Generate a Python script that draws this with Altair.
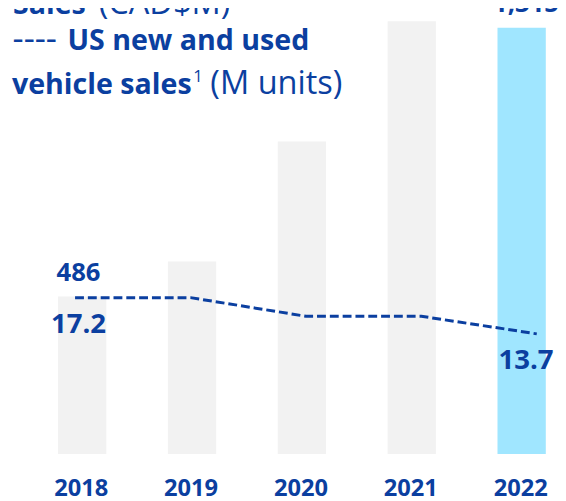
import altair as alt
import pandas as pd

# ---- data ----
years = [2018, 2019, 2020, 2021, 2022]
sales_cad_m = [486, 594, 964, 1335, 1315]          # bars (CAD$M)
vehicle_sales_m = [17.2, 17.2, 15.4, 15.4, 13.7]   # dashed line (M units)
labelled_years = [2018, 2022]
highlight_year = 2022

BLUE = "#0B3FA0"
GREY = "#F2F2F2"
CYAN = "#A0E6FF"
FONT = "Open Sans"

df = pd.DataFrame({"year": years, "sales": sales_cad_m, "units": vehicle_sales_m})

W, H = 558, 449
bar_x = alt.Scale(domain=[2017.37, 2022.286], nice=False, zero=False)
line_x = alt.Scale(domain=[2017.419, 2022.184], nice=False, zero=False)
bar_y = alt.Scale(domain=[0, 1365], nice=False, zero=True)
line_y = alt.Scale(domain=[2.07, 44.87], nice=False, zero=False)

base = alt.Chart(df)

bars = base.mark_bar(size=49).encode(
    x=alt.X(
        "year:Q",
        scale=bar_x,
        axis=alt.Axis(
            values=years, format="d", title=None, domain=False, ticks=False,
            grid=False, labelFont=FONT, labelFontSize=24, labelFontWeight="bold",
            labelColor=BLUE, labelPadding=42, labelBaseline="alphabetic",
            labelFlush=False, labelOverlap=False, labelOffset=-1.5,
        ),
    ),
    y=alt.Y("sales:Q", scale=bar_y, axis=None),
    color=alt.condition(alt.datum.year == highlight_year, alt.value(CYAN), alt.value(GREY)),
)

bar_labels = base.transform_filter(
    alt.FieldOneOfPredicate(field="year", oneOf=labelled_years)
).mark_text(
    font=FONT, fontWeight="bold", fontSize=26, color=BLUE,
    baseline="alphabetic", align="center", dy=-16,
).encode(
    x=alt.X("year:Q", scale=bar_x, axis=None),
    y=alt.Y("sales:Q", scale=bar_y, axis=None),
    text=alt.Text("sales:Q", format=",d"),
)

line = base.mark_line(color=BLUE, strokeWidth=3, strokeDash=[9, 4]).encode(
    x=alt.X("year:Q", scale=line_x, axis=None),
    y=alt.Y("units:Q", scale=line_y, axis=None),
)

line_labels = base.transform_filter(
    alt.FieldOneOfPredicate(field="year", oneOf=labelled_years)
).mark_text(
    font=FONT, fontWeight="bold", fontSize=28, color=BLUE,
    baseline="alphabetic", align="center", dy=35.5,
).encode(
    x=alt.X("year:Q", scale=bar_x, axis=None),
    y=alt.Y("units:Q", scale=line_y, axis=None),
    text=alt.Text("units:Q", format=".1f"),
)


def note(text, x, y, size, weight="normal"):
    return alt.Chart(pd.DataFrame({"t": [text]})).mark_text(
        font=FONT, fontSize=size, fontWeight=weight, color=BLUE,
        align="left", baseline="alphabetic",
    ).encode(x=alt.value(x), y=alt.value(y), text="t:N")


notes = [
    note("Sales", 5, 3, 29, "bold"),
    note("(CAD$M)", 92, 3, 33),
    note("----", 4.6, 38.7, 35),
    note("US new and used", 60.3, 38.7, 29, "bold"),
    note("vehicle sales", 4, 83.7, 29, "bold"),
    note("1", 188, 71, 17),
    note("(M units)", 205.3, 83.7, 33),
]

chart = alt.layer(bars, bar_labels, line, line_labels, *notes).resolve_scale(
    x="independent", y="independent"
).properties(
    width=W, height=H,
    autosize=alt.AutoSizeParams(type="none"),
    padding={"left": 0, "top": 0, "right": 0, "bottom": 44},
    background="white",
).configure_view(stroke=None)

chart.save("out.html", embed_options={"renderer": "svg", "actions": False})
